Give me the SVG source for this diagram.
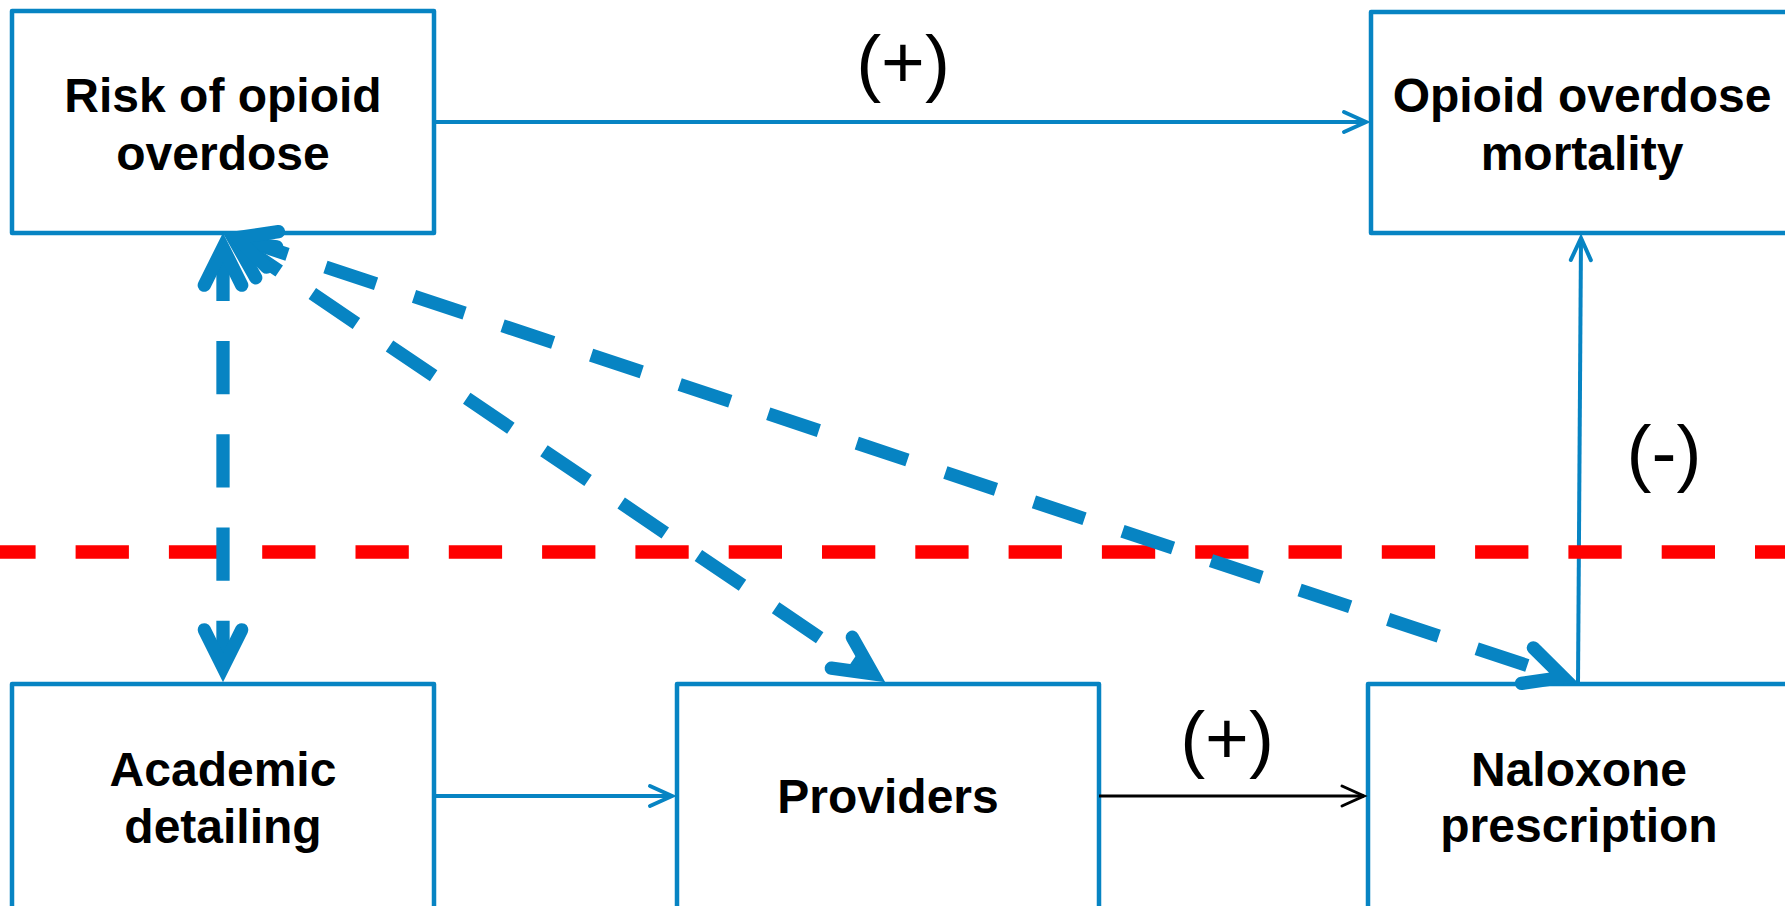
<svg xmlns="http://www.w3.org/2000/svg" xmlns:xlink="http://www.w3.org/1999/xlink" width="1785" height="906" viewBox="0 0 1785 906">
  <style>
    .box { fill: #ffffff; stroke: #0784C3; stroke-width: 4.5; stroke-linejoin: round; }
    .lbl { font-family: "Liberation Sans", Arial, sans-serif; font-weight: bold; font-size: 48px; fill: #000000; text-anchor: middle; }
    .sign { font-family: "Liberation Sans", Arial, sans-serif; font-size: 75px; fill: #000000; text-anchor: middle; }
    .thin { fill: none; stroke: #0784C3; stroke-width: 4; }
    .thin-dark { fill: none; stroke: #000000; stroke-width: 3; }
    .shaft { fill: none; stroke: #0784C3; stroke-width: 13.3; stroke-dasharray: 53.3 40; }
    .head { fill: none; stroke: #0784C3; stroke-width: 13.3; stroke-linecap: round; stroke-linejoin: miter; stroke-miterlimit: 4; }
    .divider { fill: none; stroke: #FF0000; stroke-width: 13.3; stroke-dasharray: 53.3 40; stroke-dashoffset: 17.7; }
  </style>
  <defs>
    <marker id="tipBlue" markerUnits="userSpaceOnUse" orient="auto" refX="0" refY="0" markerWidth="40" markerHeight="40" overflow="visible">
      <path d="M -22,-10 L 0,0 L -22,10" fill="none" stroke="#0784C3" stroke-width="4" stroke-linecap="round"/>
    </marker>
    <marker id="tipDark" markerUnits="userSpaceOnUse" orient="auto" refX="0" refY="0" markerWidth="40" markerHeight="40" overflow="visible">
      <path d="M -22,-10 L 0,0 L -22,10" fill="none" stroke="#000000" stroke-width="3" stroke-linecap="round"/>
    </marker>
    <!-- open chevron for the thick dashed arrows; vertex at origin, pointing +x -->
    <path id="bigHead" d="M -37.6,-18.7 L 0,0 L -37.6,18.7"/>
  </defs>

  <!-- nodes -->
  <g id="risk">
    <rect class="box" x="12" y="11" width="422" height="222"/>
    <text class="lbl" x="223" y="112">Risk of opioid</text>
    <text class="lbl" x="223" y="170">overdose</text>
  </g>
  <g id="mortality">
    <rect class="box" x="1371" y="12" width="422" height="221"/>
    <text class="lbl" x="1582" y="112">Opioid overdose</text>
    <text class="lbl" x="1582" y="170">mortality</text>
  </g>
  <g id="academic">
    <rect class="box" x="12" y="684" width="422" height="240"/>
    <text class="lbl" x="223" y="786">Academic</text>
    <text class="lbl" x="223" y="843">detailing</text>
  </g>
  <g id="providers">
    <rect class="box" x="677" y="684" width="422" height="240"/>
    <text class="lbl" x="888" y="813">Providers</text>
  </g>
  <g id="naloxone">
    <rect class="box" x="1368" y="684" width="422" height="240"/>
    <text class="lbl" x="1579" y="786">Naloxone</text>
    <text class="lbl" x="1579" y="842">prescription</text>
  </g>

  <!-- connectors -->
  <g id="connectors">
    <line class="thin" x1="434" y1="122" x2="1366" y2="122" marker-end="url(#tipBlue)"/>
    <line class="thin" x1="1578" y1="684" x2="1581" y2="238" marker-end="url(#tipBlue)"/>
    <line class="thin" x1="434" y1="796" x2="672" y2="796" marker-end="url(#tipBlue)"/>
    <line class="thin-dark" x1="1099" y1="796" x2="1364" y2="796" marker-end="url(#tipDark)"/>

    <!-- boundary line -->
    <line class="divider" x1="0" y1="552" x2="1785" y2="552"/>

    <!-- two-way dashed arrows from the risk node -->
    <line class="shaft" x1="223" y1="247.6" x2="223" y2="667.4"/>
    <line class="shaft" x1="235.1" y1="241.2" x2="872.9" y2="673.8"/>
    <line class="shaft" x1="236.9" y1="237.6" x2="1563.1" y2="677.4"/>
    <use xlink:href="#bigHead" class="head" transform="translate(223,247.6) rotate(-90)"/>
    <use xlink:href="#bigHead" class="head" transform="translate(223,667.4) rotate(90)"/>
    <use xlink:href="#bigHead" class="head" transform="translate(235.1,241.2) rotate(214.15)"/>
    <use xlink:href="#bigHead" class="head" transform="translate(872.9,673.8) rotate(34.15)"/>
    <use xlink:href="#bigHead" class="head" transform="translate(236.9,237.6) rotate(198.35)"/>
    <use xlink:href="#bigHead" class="head" transform="translate(1563.1,677.4) rotate(18.35)"/>

    <!-- effect signs -->
    <text class="sign" x="903" y="88">(+)</text>
    <text class="sign" x="1227" y="764">(+)</text>
    <text class="sign" x="1664" y="478">(-)</text>
  </g>
</svg>
